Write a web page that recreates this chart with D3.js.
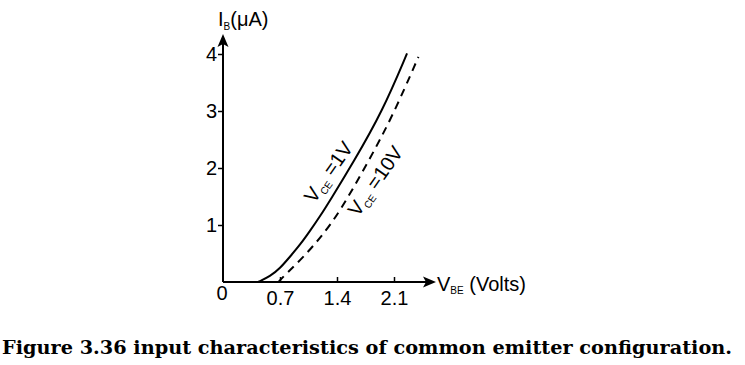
<!DOCTYPE html>
<html>
<head>
<meta charset="utf-8">
<script src="https://cdn.jsdelivr.net/npm/d3@7"></script>
<style>
  html, body { margin: 0; padding: 0; background: #fff; }
  svg { display: block; }
  text { font-family: "Liberation Sans", Arial, sans-serif; fill: #000; }
</style>
</head>
<body>
<svg id="chart" width="745" height="365"></svg>
<script>
// ---- data ----
const vbeSolid = [0.43, 0.58, 0.70, 0.82, 0.95, 1.07, 1.19, 1.31, 1.6, 1.96, 2.26];
const ibSolid  = [0,    0.1,  0.24, 0.44, 0.66, 0.9,  1.15, 1.42, 2.1, 3.0,  4.01];
const vbeDashed = [0.68, 0.78, 0.99, 1.21, 1.43, 1.78, 2.08, 2.4];
const ibDashed  = [0,    0.15, 0.44, 0.8,  1.22, 2.1,  2.9,  3.95];
const xTicks = [0.7, 1.4, 2.1];
const xTickLabels = ["0.7", "1.4", "2.1"];
const yTicks = [1, 2, 3, 4];
const yTickLabels = ["1", "2", "3", "4"];

const svg = d3.select("#chart");
const x = d3.scaleLinear().domain([0, 0.7]).range([223, 280]);
const y = d3.scaleLinear().domain([0, 1]).range([282, 225]);
const ink = "#000";
const sans = "'Liberation Sans', Arial, sans-serif";

// axes lines
svg.append("line").attr("x1", x(0)).attr("y1", y(0)).attr("x2", 428).attr("y2", y(0))
  .attr("stroke", ink).attr("stroke-width", 2);
svg.append("line").attr("x1", x(0)).attr("y1", y(0)).attr("x2", x(0)).attr("y2", 44)
  .attr("stroke", ink).attr("stroke-width", 2);
// arrowheads
svg.append("path").attr("d", `M436,${y(0)} L423,${y(0)-5.5} L426,${y(0)} L423,${y(0)+5.5} Z`).attr("fill", ink);
svg.append("path").attr("d", `M${x(0)},34 L${x(0)-5.5},47 L${x(0)},44 L${x(0)+5.5},47 Z`).attr("fill", ink);

// x ticks
const xAxis = d3.axisBottom(x).tickValues(xTicks).tickSize(0).tickFormat((d, i) => xTickLabels[i]);
const gx = svg.append("g").attr("transform", `translate(0,${y(0)})`).call(xAxis);
gx.select(".domain").remove();
gx.selectAll(".tick text").attr("dy", 0).attr("y", 23).style("font-size", "20px")
  .style("font-family", sans).attr("fill", ink);
gx.selectAll(".tick").append("line").attr("y1", 0).attr("y2", -5).attr("stroke", ink).attr("stroke-width", 1.5);

// y ticks
const yAxis = d3.axisLeft(y).tickValues(yTicks).tickSize(5).tickPadding(1).tickFormat((d, i) => yTickLabels[i]);
const gy = svg.append("g").attr("transform", `translate(${x(0)},0)`).call(yAxis);
gy.select(".domain").remove();
gy.selectAll(".tick line").attr("stroke", ink).attr("stroke-width", 1.5);
gy.selectAll(".tick text").style("font-size", "20px")
  .style("font-family", sans).attr("fill", ink);

// origin label
svg.append("text").attr("x", 222).attr("y", 300).attr("text-anchor", "middle")
  .style("font-size", "20px").text("0");

// curves
const line = d3.line().x(d => x(d[0])).y(d => y(d[1])).curve(d3.curveBasis);
svg.append("path").datum(vbeSolid.map((v, i) => [v, ibSolid[i]]))
  .attr("d", line).attr("fill", "none").attr("stroke", ink).attr("stroke-width", 2);
svg.append("path").datum(vbeDashed.map((v, i) => [v, ibDashed[i]]))
  .attr("d", line).attr("fill", "none").attr("stroke", ink).attr("stroke-width", 2)
  .attr("stroke-dasharray", "8,6");

// axis titles
const yl = svg.append("text").attr("x", 218).attr("y", 26).style("font-size", "20px");
yl.append("tspan").text("I");
yl.append("tspan").attr("dy", 4).style("font-size", "10px").text("B");
yl.append("tspan").attr("dy", -4).text("(μA)");

const xl = svg.append("text").attr("x", 437).attr("y", 291).style("font-size", "20px");
xl.append("tspan").text("V");
xl.append("tspan").attr("dy", 3).style("font-size", "10px").text("BE");
xl.append("tspan").attr("dy", -3).text(" (Volts)");

// curve labels
function curveLabel(cx, cy, val) {
  const t = svg.append("text").attr("transform", `translate(${cx},${cy}) rotate(-55)`)
    .attr("text-anchor", "middle").style("font-size", "20px");
  t.append("tspan").text("V");
  t.append("tspan").attr("dy", 4).style("font-size", "10px").text("CE");
  t.append("tspan").attr("dy", -4).text(" =" + val);
}
curveLabel(334, 176, "1V");
curveLabel(381, 185, "10V");

// caption
svg.append("text").attr("x", 2).attr("y", 354)
  .attr("textLength", 730).attr("lengthAdjust", "spacingAndGlyphs")
  .style("font-family", "'DejaVu Serif', 'Liberation Serif', serif")
  .style("font-weight", "bold").style("font-size", "19px")
  .text("Figure 3.36 input characteristics of common emitter configuration.");
</script>
</body>
</html>
